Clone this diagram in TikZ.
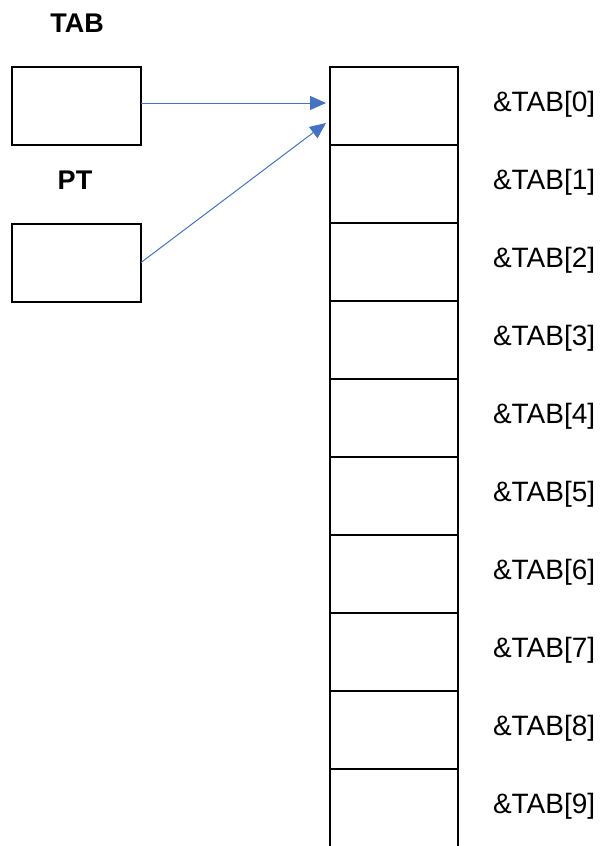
\documentclass[tikz,border=0pt]{standalone}
\usepackage{fontspec}
\setmainfont{Liberation Sans}
\usetikzlibrary{arrows.meta}
\definecolor{ptrblue}{HTML}{4472C4}
\begin{document}
\begin{tikzpicture}[x=1pt,y=-1pt,
  every node/.style={inner sep=0pt, outer sep=0pt},
  varbox/.style={draw=black, line width=2pt, minimum width=129pt, minimum height=78pt},
  cellbox/.style={draw=black, line width=2pt, minimum width=128pt, minimum height=78pt},
  opencell/.style={minimum width=128pt, minimum height=78pt},
  varname/.style={font=\fontsize{27pt}{32pt}\selectfont\bfseries},
  addr/.style={font=\fontsize{28pt}{33pt}\selectfont, anchor=west},
  pointer/.style={draw=ptrblue, line width=1pt, -{Triangle[length=16pt,width=14pt]}}]
  \useasboundingbox (0,0) rectangle (600,846);
  \clip (0,0) rectangle (600,846);

  % pointer variables
  \node[varname] (tablbl) at (77,23) {TAB};
  \node[varbox] (tab) at (76.5,106) {};
  \node[varname] (ptlbl) at (75,180) {PT};
  \node[varbox] (pt) at (76.5,262.5) {};

  % array cells
  \foreach \i in {0,...,8} {
    \node[cellbox] (c\i) at (394,106+78*\i) {};
  }
  \node[opencell] (c9) at (394,808) {};
  \draw[line width=2pt] ([yshift=-10pt]c9.south west) -- (c9.north west) -- (c9.north east) -- ([yshift=-10pt]c9.south east);

  % address labels
  \foreach \i in {0,...,9} {
    \node[addr] (a\i) at ([xshift=35pt,yshift=2pt]c\i.east) {\&TAB[\i]};
  }

  % pointers into the array
  \draw[pointer] ([yshift=3pt]tab.east) -- ([xshift=-4pt,yshift=3pt]c0.west);
  \draw[pointer] (pt.east) -- ([xshift=-4pt,yshift=-17pt]c0.west);
\end{tikzpicture}
\end{document}
